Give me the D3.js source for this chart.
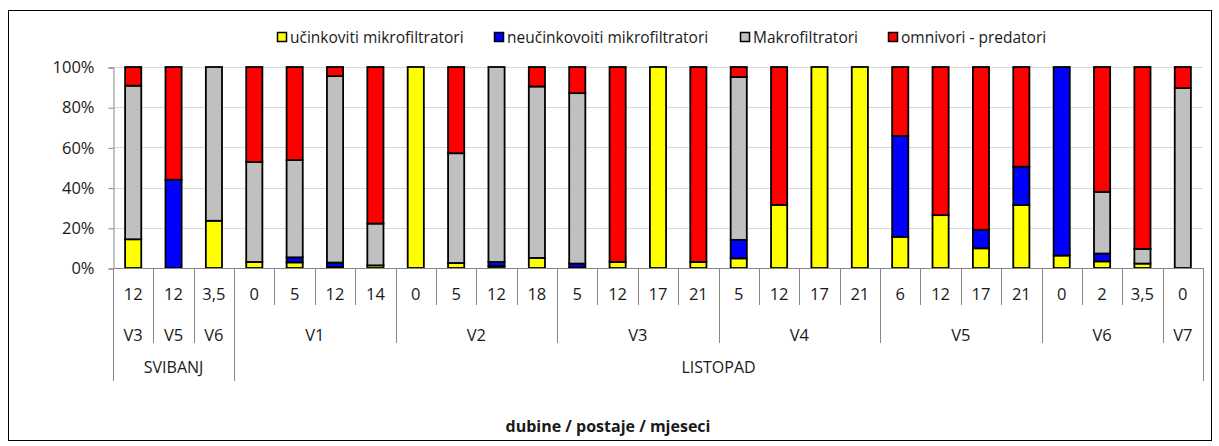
<!DOCTYPE html>
<html>
<head>
<meta charset="utf-8">
<script src="https://cdn.jsdelivr.net/npm/d3@7"></script>
<style>
  body { margin: 0; background: #fff; }
  svg { display: block; }
  text { font-family: "Open Sans", sans-serif; fill: #1a1a1a; }
</style>
</head>
<body>
<svg></svg>
<script>
// dubina (m) for each bar
let depths = ["12", "12", "3,5", "0", "5", "12", "14", "0", "5", "12", "18", "5", "12", "17", "21",
              "5", "12", "17", "21", "6", "12", "17", "21", "0", "2", "3,5", "0"];

// postaje and how many bars each spans
let stations = ["V3", "V5", "V6", "V1", "V2", "V3", "V4", "V5", "V6", "V7"];
let stationSpan = [1, 1, 1, 4, 4, 4, 4, 4, 3, 1];

// mjeseci
let months = ["SVIBANJ", "LISTOPAD"];
let monthSpan = [3, 24];

let seriesNames = ["učinkoviti mikrofiltratori", "neučinkovoiti mikrofiltratori", "Makrofiltratori", "omnivori - predatori"];
let seriesColors = ["#ffff00", "#0000ff", "#c0c0c0", "#ff0000"];

// udjeli u %
let ucinkoviti = [14.3, 0, 23.5, 3, 2.8, 0.5, 1.3, 100, 2.5, 1, 5, 0.3, 3, 100, 3,
                  4.8, 31.4, 100, 100, 15.5, 26.3, 9.8, 31.3, 6.2, 3.3, 2.2, 0];
let neucinkoviti = [0, 43.9, 0, 0, 2.5, 2.2, 0, 0, 0, 2, 0, 1.9, 0, 0, 0,
                    9.2, 0, 0, 0, 50.2, 0, 9.2, 19.1, 93.8, 3.9, 0, 0];
let makro = [76.4, 0, 76.5, 49.7, 48.4, 92.8, 20.8, 0, 54.6, 97, 85.3, 84.8, 0, 0, 0,
             81, 0, 0, 0, 0, 0, 0, 0, 0, 30.7, 7.3, 89.5];
let omnivori = [9.3, 56.1, 0, 47.3, 46.3, 4.5, 77.9, 0, 42.9, 0, 9.7, 13, 97, 0, 97,
                5, 68.6, 0, 0, 34.3, 73.7, 81, 49.6, 0, 62.1, 90.5, 10.5];

let yTicks = [0, 0.2, 0.4, 0.6, 0.8, 1];

let width = 1219;
let height = 446;
let plotLeft = 113, plotRight = 1203, plotTop = 67, plotBottom = 268;

let svg = d3.select("svg").attr("width", width).attr("height", height);

// chart border
svg.append("rect")
   .attr("x", 8.5).attr("y", 10.5)
   .attr("width", 1203).attr("height", 430)
   .attr("fill", "none").attr("stroke", "#000").attr("stroke-width", 1);

let rows = depths.map((d, i) => ({
  idx: i,
  a: ucinkoviti[i], b: neucinkoviti[i], c: makro[i], d: omnivori[i]
}));

let keys = ["a", "b", "c", "d"];
let stack = d3.stack().keys(keys).offset(d3.stackOffsetExpand);
let layers = stack(rows);

let xScale = d3.scaleBand()
               .domain(d3.range(depths.length))
               .range([plotLeft, plotRight])
               .padding(0);

let yScale = d3.scaleLinear()
               .domain([0, 1])
               .range([plotBottom, plotTop]);

// grid
svg.append("g")
   .selectAll("line")
   .data(yTicks.slice(1))
   .enter()
   .append("line")
   .attr("x1", plotLeft).attr("x2", plotRight)
   .attr("y1", (d) => Math.round(yScale(d)) + 0.5)
   .attr("y2", (d) => Math.round(yScale(d)) + 0.5)
   .attr("stroke", "#d9d9d9").attr("stroke-width", 1);

// y axis
let yAxis = svg.append("g")
   .attr("transform", "translate(" + (plotLeft + 0.5) + ",0.5)")
   .call(d3.axisLeft(yScale).tickValues(yTicks).tickFormat(d3.format(".0%")).tickSize(5).tickPadding(14));
yAxis.selectAll("path, line").attr("stroke", "#868686");
yAxis.selectAll("text").style("font-size", "16.5px").style("font-family", "Open Sans").attr("fill", "#333");

// bars
let barW = xScale.bandwidth() * 0.4;
svg.append("g")
   .selectAll("g")
   .data(layers)
   .enter()
   .append("g")
   .attr("fill", (d, i) => seriesColors[i])
   .selectAll("rect")
   .data((d) => d.filter((p) => p[1] - p[0] > 0))
   .enter()
   .append("rect")
   .attr("x", (d) => xScale(d.data.idx) + (xScale.bandwidth() - barW) / 2)
   .attr("width", barW)
   .attr("y", (d) => yScale(d[1]))
   .attr("height", (d) => yScale(d[0]) - yScale(d[1]))
   .attr("stroke", "#000")
   .attr("stroke-width", 1.8);

// x axis line
svg.append("line")
   .attr("x1", plotLeft).attr("x2", plotRight)
   .attr("y1", plotBottom + 0.5).attr("y2", plotBottom + 0.5)
   .attr("stroke", "#868686");

// category separators
let stationEnds = d3.cumsum(stationSpan);
let monthEnds = d3.cumsum(monthSpan);
let bounds = d3.range(depths.length + 1).map((i) => {
  let len = 305;
  if (i === 0 || stationEnds.includes(i)) len = 343;
  if (i === 0 || monthEnds.includes(i)) len = 381;
  return { i: i, y2: len };
});
let xEdge = (i) => i < depths.length ? xScale(i) : plotRight;
svg.append("g")
   .selectAll("line")
   .data(bounds)
   .enter()
   .append("line")
   .attr("x1", (d) => Math.round(xEdge(d.i)) + 0.5)
   .attr("x2", (d) => Math.round(xEdge(d.i)) + 0.5)
   .attr("y1", plotBottom)
   .attr("y2", (d) => d.y2)
   .attr("stroke", "#868686");

// depth labels
svg.append("g")
   .selectAll("text")
   .data(depths)
   .enter()
   .append("text")
   .attr("x", (d, i) => xScale(i) + xScale.bandwidth() / 2)
   .attr("y", 300)
   .attr("text-anchor", "middle")
   .style("font-size", "16.5px")
   .text((d) => d);

// station labels
let stationStarts = stationSpan.map((s, i) => stationEnds[i] - s);
svg.append("g")
   .selectAll("text")
   .data(stations)
   .enter()
   .append("text")
   .attr("x", (d, i) => (xEdge(stationStarts[i]) + xEdge(stationEnds[i])) / 2)
   .attr("y", 341)
   .attr("text-anchor", "middle")
   .style("font-size", "16.5px")
   .text((d) => d);

// month labels
let monthStarts = monthSpan.map((s, i) => monthEnds[i] - s);
svg.append("g")
   .selectAll("text")
   .data(months)
   .enter()
   .append("text")
   .attr("x", (d, i) => (xEdge(monthStarts[i]) + xEdge(monthEnds[i])) / 2)
   .attr("y", 373)
   .attr("text-anchor", "middle")
   .style("font-size", "16px")
   .text((d) => d);

// axis title
svg.append("text")
   .attr("x", 608)
   .attr("y", 432)
   .attr("text-anchor", "middle")
   .style("font-size", "16px")
   .style("font-weight", "bold")
   .text("dubine / postaje / mjeseci");

// legend
let legendX = [277, 494, 740, 888];
let legend = svg.append("g")
   .selectAll("g")
   .data(seriesNames)
   .enter()
   .append("g")
   .attr("transform", (d, i) => "translate(" + legendX[i] + ",32)");
legend.append("rect")
   .attr("x", 0.5).attr("y", 0.5)
   .attr("width", 9).attr("height", 9)
   .attr("fill", (d, i) => seriesColors[i])
   .attr("stroke", "#000").attr("stroke-width", 1.5);
legend.append("text")
   .attr("x", 13)
   .attr("y", 10.5)
   .style("font-size", "15.5px")
   .text((d) => d);
</script>
</body>
</html>
